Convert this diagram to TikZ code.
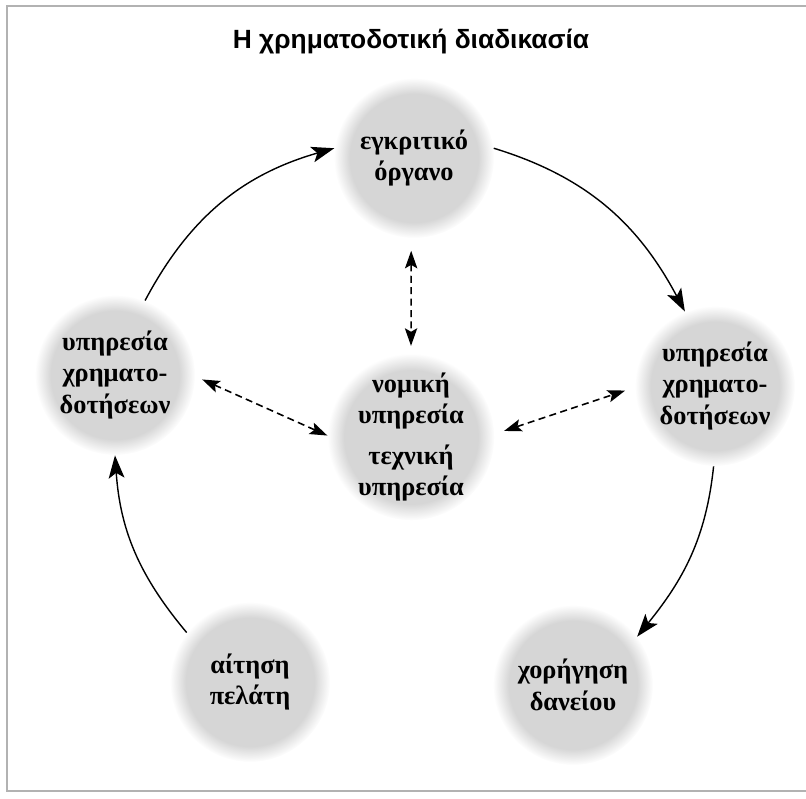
\documentclass[tikz,border=0pt]{standalone}
\usepackage{fontspec}
\setmainfont{Liberation Serif}
\newfontfamily\titlefont{Liberation Sans}
\usetikzlibrary{arrows.meta,fadings}

\begin{document}
\begin{tikzpicture}[x=0.02cm, y=0.02cm,
  stage/.style={circle, minimum size=3.2cm, inner sep=0pt, align=center,
    fill=gray!32, path fading=circle with fuzzy edge 20 percent,
    font=\bfseries\fontsize{15}{18}\selectfont},
  flow/.style={line width=0.8pt, -{Stealth[length=13pt,width=9pt,inset=3pt]}},
  link/.style={line width=0.9pt, dash pattern=on 4pt off 2.5pt,
    {Stealth[length=10pt,width=7pt,inset=2pt]}-{Stealth[length=10pt,width=7pt,inset=2pt]}}]

\useasboundingbox (0,0) rectangle (806,-799);
\draw[gray!60, line width=1.2pt] (812,-6) -- (7,-6) -- (7,-791) -- (812,-791);

\node (title) at (411,-42) {\titlefont\bfseries\fontsize{15}{17}\selectfont Η χρηματοδοτική διαδικασία};

\node[stage] (board) at (414,-158) {εγκριτικό\\όργανο};
\node[stage] (lsvc) at (115,-375) {υπηρεσία\\χρηματο-\\δοτήσεων};
\node[stage] (rsvc) at (715,-386) {υπηρεσία\\χρηματο-\\δοτήσεων};
\node[stage] (legal) at (411,-437) {νομική\\υπηρεσία\\[5pt]τεχνική\\υπηρεσία};
\node[stage] (request) at (250,-682) {αίτηση\\πελάτη};
\node[stage] (loan) at (573,-685) {χορήγηση\\δανείου};

\draw[flow] (lsvc.68) to[out=62, in=196] (board.173);
\draw[flow] (board.7) to[out=-17, in=118] (rsvc.112);
\draw[flow] (rsvc.269) to[out=-96, in=51] (loan.37);
\draw[flow] (request.142) to[out=130, in=274] (lsvc.270);

\draw[link, shorten <=0.25cm, shorten >=0.15cm] (board.268) -- (legal.90);
\draw[link, shorten <=0.15cm] (lsvc.-1) -- (legal.179);
\draw[link, shorten <=0.2cm, shorten >=0.2cm] (legal.2) -- (rsvc.181);

\end{tikzpicture}
\end{document}
